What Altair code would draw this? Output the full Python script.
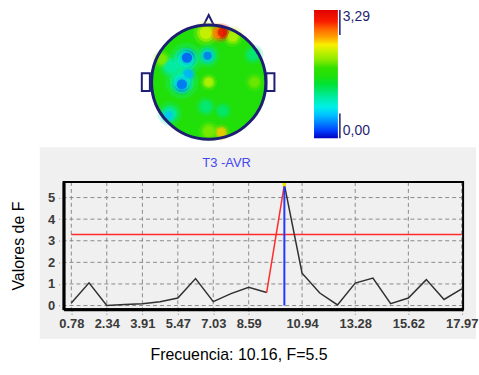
import altair as alt
import pandas as pd

# ---------------- data ----------------
freqs = [0.78, 1.56, 2.34, 3.13, 3.91, 4.69, 5.47, 6.25, 7.03, 7.81, 8.59, 9.38,
         10.16, 10.94, 11.72, 12.50, 13.28, 14.06, 14.84, 15.62, 16.41, 17.19, 17.97]
f_values = [0.12, 1.05, 0.00, 0.05, 0.08, 0.18, 0.35, 1.25, 0.18, 0.55, 0.85, 0.60,
            5.60, 1.50, 0.58, 0.03, 1.04, 1.27, 0.09, 0.35, 1.20, 0.28, 0.77]
x_tick_values = [0.78, 2.34, 3.91, 5.47, 7.03, 8.59, 10.94, 13.28, 15.62, 17.97]
y_tick_values = [0, 1, 2, 3, 4, 5]
threshold = 3.29
selected_freq = 10.16
selected_f = 5.6
channel_name = "T3 -AVR"
caption = "Frecuencia: 10.16, F=5.5"
y_title = "Valores de F"

# topographic map, head coordinates (radius 1)
base_value = 1.6
spot_u = [-0.05, 0.42, 0.16, 0.24, -0.40, -0.38, -0.02, -0.02, -0.47, -0.47, -0.36, -0.66,
          -0.68, -0.70, 0.00, 0.22, 0.00, -0.05, 0.25, 0.78, -0.82, 0.80]
spot_v = [0.86, 0.80, 0.86, 0.87, 0.40, 0.43, 0.46, 0.46, 0.00, -0.04, 0.14, 0.27,
          -0.55, -0.58, 0.00, -0.88, -0.86, -0.43, -0.50, 0.48, 0.40, 0.00]
spot_val = [2.3, 2.2, 2.7, 3.25, 0.9, 0.2, 1.0, 0.3, 0.9, 0.25, 0.55, 1.0,
            1.05, 0.6, 2.2, 2.5, 2.0, 1.15, 1.2, 1.15, 2.0, 1.95]
spot_r = [0.12, 0.10, 0.10, 0.09, 0.16, 0.10, 0.12, 0.08, 0.16, 0.10, 0.08, 0.12,
          0.12, 0.08, 0.08, 0.08, 0.10, 0.10, 0.09, 0.10, 0.09, 0.09]
ear_u = [-1.10, 1.08]
ear_v = [0.0, 0.0]
nose_u = [0.0]
nose_v = [1.078]
scale_labels = [0.0, 3.29]
color_stops = [0.0, 0.17, 0.50, 0.76, 1.15, 1.45, 1.80, 2.15, 2.40, 2.62, 2.95, 3.29]
color_range = ["#0000c0", "#0030ff", "#00a0ff", "#00f0f0", "#00e880", "#10e010",
               "#30e000", "#b0f000", "#f8f000", "#ff9800", "#ff2000", "#e00000"]

FONT = "Liberation Sans"
NAVY = "#1e1e72"

# ---------------- top: head map + colour bar ----------------
PX = 57.5               # pixels per head unit
TOP_W, TOP_H = 415, 140
CX, CY = 146, 80.5
hx = alt.X("u:Q", scale=alt.Scale(domain=[-CX / PX, (TOP_W - CX) / PX], nice=False, zero=False), axis=None)
hy = alt.Y("v:Q", scale=alt.Scale(domain=[-(TOP_H - CY) / PX, CY / PX], nice=False, zero=False), axis=None)

legend = alt.Legend(orient="none", legendX=252, legendY=8, direction="vertical",
                    gradientLength=129, gradientThickness=24, title=None,
                    values=scale_labels, labelFont=FONT, labelFontSize=14,
                    labelColor=NAVY, labelOffset=5, gradientStrokeWidth=0, padding=0,
                    labelExpr="replace(format(datum.value, '.2f'), '.', ',')")
hcolor = alt.Color("val:Q", scale=alt.Scale(domain=color_stops, range=color_range), legend=legend)

spots = pd.DataFrame({"u": spot_u, "v": spot_v, "val": spot_val, "r": spot_r})
spots["core"] = (2 * 0.9 * spots["r"] * PX) ** 2
spots["mid"] = (2 * 1.3 * spots["r"] * PX) ** 2
spots["halo"] = (2 * 1.8 * spots["r"] * PX) ** 2
disc_df = pd.DataFrame({"u": [0.0], "v": [0.0], "val": [base_value]})

ears = alt.Chart(pd.DataFrame({"u": ear_u, "v": ear_v})).mark_point(
    shape="M-0.45,-1L0.45,-1L0.45,1L-0.45,1Z", filled=True, fill="white",
    stroke=NAVY, strokeWidth=2, size=18 ** 2, opacity=1).encode(x=hx, y=hy)
nose = alt.Chart(pd.DataFrame({"u": nose_u, "v": nose_v})).mark_point(
    shape="M-1,1L0,-1L1,1Z", filled=True, fill="white",
    stroke=NAVY, strokeWidth=2, size=11 ** 2, opacity=1).encode(x=hx, y=hy)
disc = alt.Chart(disc_df).mark_circle(size=(2 * PX) ** 2, opacity=1).encode(x=hx, y=hy, color=hcolor)
halo = alt.Chart(spots).mark_circle(opacity=0.2).encode(
    x=hx, y=hy, color=hcolor, size=alt.Size("halo:Q", scale=None))
mid = alt.Chart(spots).mark_circle(opacity=0.45).encode(
    x=hx, y=hy, color=hcolor, size=alt.Size("mid:Q", scale=None))
core = alt.Chart(spots).mark_circle(opacity=0.7).encode(
    x=hx, y=hy, color=hcolor, size=alt.Size("core:Q", scale=None))
outline = alt.Chart(disc_df).mark_point(shape="circle", filled=False, size=(2 * PX) ** 2,
                                        stroke=NAVY, strokeWidth=3, opacity=1).encode(x=hx, y=hy)
one = alt.Data(values=[{"k": 1}])
bracket = alt.layer(
    alt.Chart(one).mark_rule(color=NAVY, strokeWidth=1.5).encode(
        x=alt.value(278), y=alt.value(8), y2=alt.value(33)),
    alt.Chart(one).mark_rule(color=NAVY, strokeWidth=1.5).encode(
        x=alt.value(278), y=alt.value(112), y2=alt.value(137)),
)

top = alt.layer(ears, nose, disc, halo, mid, core, outline, bracket).properties(width=TOP_W, height=TOP_H)

# ---------------- bottom: F values ----------------
BW, BH = 402, 128
LBL = "#3a3a3a"
xaxis = alt.Axis(values=x_tick_values, format=".2f", labelFont=FONT, labelFontSize=13,
                 labelFontWeight="bold", labelColor=LBL, labelPadding=3, labelOverlap=False,
                 labelFlush=False, tickSize=5, tickColor="#808080", tickDash=[2, 2],
                 domainColor="black", domainWidth=3, grid=False, title=caption,
                 titleFont=FONT, titleFontSize=16, titleFontWeight="normal", titleColor="black",
                 titlePadding=17, titleX=176, zindex=1)
yaxis = alt.Axis(values=y_tick_values, format="d", labelFont=FONT, labelFontSize=13,
                 labelFontWeight="bold", labelColor=LBL, labelPadding=4, tickSize=5,
                 tickColor="#808080", tickDash=[2, 2], domainColor="black", domainWidth=3,
                 grid=False, title=y_title, titleFont=FONT, titleFontSize=16,
                 titleFontWeight="normal", titleColor="black", titlePadding=21, zindex=1)
X = alt.X("freq:Q", scale=alt.Scale(domain=[0.44, 18.03], nice=False, zero=False), axis=xaxis)
Y = alt.Y("F:Q", scale=alt.Scale(domain=[-0.17, 5.72], nice=False, zero=False), axis=yaxis)

rows = []
for seg, i0, i1 in [("a", 0, 11), ("b", 11, 12), ("c", 12, 22)]:
    for i in range(i0, i1 + 1):
        rows.append({"freq": freqs[i], "F": f_values[i], "seg": seg})
line_df = pd.DataFrame(rows)

panel = alt.Chart(one).mark_rect(color="#f0f0f0").encode(
    x=alt.value(-24), x2=alt.value(BW + 13), y=alt.value(-35), y2=alt.value(BH + 30))
label = alt.Chart(one).mark_text(font=FONT, fontSize=13, color="#4646f0",
                                 align="center", baseline="middle").encode(
    x=alt.value(164), y=alt.value(-19), text=alt.value(channel_name))
vgrid = alt.Chart(pd.DataFrame({"freq": x_tick_values})).mark_rule(
    color="#8a8a8a", strokeDash=[4, 3], strokeWidth=1).encode(x=X)
hgrid = alt.Chart(pd.DataFrame({"F": y_tick_values})).mark_rule(
    color="#8a8a8a", strokeDash=[4, 3], strokeWidth=1).encode(y=Y)
thr = alt.Chart(pd.DataFrame({"freq": [freqs[0]], "freq2": [freqs[-1]], "F": [threshold]})).mark_rule(
    color="#ff2a2a", strokeWidth=1.5).encode(x=X, x2="freq2:Q", y=Y)
black_line = alt.Chart(line_df[line_df.seg != "b"]).mark_line(
    color="#303030", strokeWidth=1.5).encode(x=X, y=Y, detail="seg:N")
red_line = alt.Chart(line_df[line_df.seg == "b"]).mark_line(
    color="#ff2a2a", strokeWidth=1.5).encode(x=X, y=Y)
blue = alt.Chart(pd.DataFrame({"freq": [selected_freq], "F": [0.0], "F2": [selected_f]})).mark_rule(
    color="#2438ff", strokeWidth=2).encode(x=X, y=Y, y2="F2:Q")
peak = alt.Chart(pd.DataFrame({"freq": [selected_freq], "F": [selected_f]})).mark_point(
    shape="square", filled=True, color="#f0e000", size=12, opacity=1).encode(x=X, y=Y)
frame = alt.Chart(one).mark_rect(fillOpacity=0, stroke="black", strokeWidth=2).encode(
    x=alt.value(0), x2=alt.value(BW), y=alt.value(0), y2=alt.value(BH))

bottom = alt.layer(panel, label, vgrid, hgrid, thr, black_line, red_line, blue, peak, frame).properties(
    width=BW, height=BH)

chart = alt.vconcat(top, bottom, spacing=0).properties(
    padding={"left": 10, "top": 0, "right": 0, "bottom": 0}
).configure_view(stroke="transparent")

chart.save("out.html", embed_options={"renderer": "svg", "actions": False})
